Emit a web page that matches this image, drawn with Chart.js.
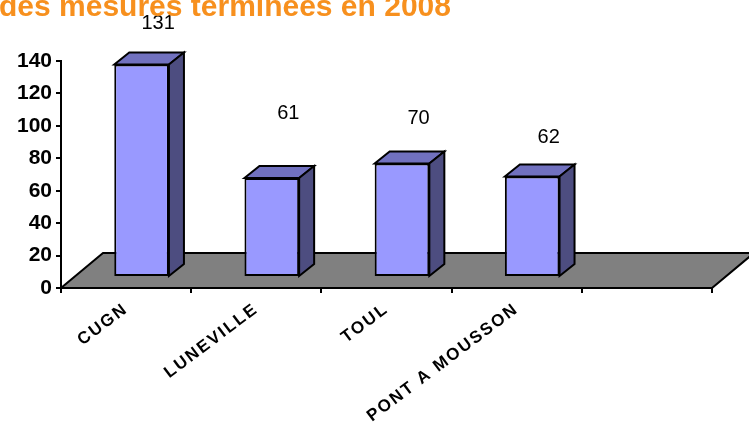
<!DOCTYPE html>
<html>
<head>
<meta charset="utf-8">
<style>
  html, body { margin: 0; padding: 0; background: #fff; }
  canvas { display: block; }
</style>
</head>
<body>
<canvas id="mesuresChart" width="749" height="432"></canvas>
<script src="https://cdn.jsdelivr.net/npm/chart.js"></script>
<script>
  // nombre de mesures terminées par site
  const sites = ['CUGN', 'LUNEVILLE', 'TOUL', 'PONT A MOUSSON'];
  const mesures = [131, 61, 70, 62];
  const yTicks = [0, 20, 40, 60, 80, 100, 120, 140];

  const FRONT = '#9999FF', TOP = '#7171BF', SIDE = '#4D4D80', FLOOR = '#808080';
  const SHIFT = { x: 15.5, y: -11 };        // bars stand behind the axis plane
  const DEPTH = { x: 15, y: -12 };          // depth of each bar
  const FLOOR_DEPTH = { x: 42, y: -35 };
  const LABEL_LIFT = [41, 65, 45, 39];      // Excel put the value labels unevenly

  const pseudo3d = {
    id: 'pseudo3d',
    beforeDraw(chart) {
      // wide spacing for the category names (y tick labels are drawn later, ticks.z: 1)
      chart.ctx.letterSpacing = '2px';
    },
    beforeDatasetsDraw(chart) {
      const { ctx, chartArea: a } = chart;
      ctx.letterSpacing = '0px';
      const y0 = chart.scales.y.getPixelForValue(0);

      // grey floor
      ctx.save();
      ctx.beginPath();
      ctx.moveTo(a.left, y0);
      ctx.lineTo(a.right, y0);
      ctx.lineTo(a.right + FLOOR_DEPTH.x, y0 + FLOOR_DEPTH.y);
      ctx.lineTo(a.left + FLOOR_DEPTH.x, y0 + FLOOR_DEPTH.y);
      ctx.closePath();
      ctx.fillStyle = FLOOR;
      ctx.fill();
      ctx.lineWidth = 2;
      ctx.strokeStyle = '#000';
      ctx.stroke();
      ctx.restore();

      // top and side faces, front faces are drawn by chart.js in the same frame
      ctx.save();
      ctx.translate(SHIFT.x, SHIFT.y);
      ctx.lineWidth = 2;
      ctx.strokeStyle = '#000';
      chart.getDatasetMeta(0).data.forEach(bar => {
        const { x, y, base, width } = bar.getProps(['x', 'y', 'base', 'width'], true);
        const l = x - width / 2, r = x + width / 2;

        ctx.beginPath();
        ctx.moveTo(l, y);
        ctx.lineTo(l + DEPTH.x, y + DEPTH.y);
        ctx.lineTo(r + DEPTH.x, y + DEPTH.y);
        ctx.lineTo(r, y);
        ctx.closePath();
        ctx.fillStyle = TOP;
        ctx.fill();
        ctx.stroke();

        ctx.beginPath();
        ctx.moveTo(r, y);
        ctx.lineTo(r + DEPTH.x, y + DEPTH.y);
        ctx.lineTo(r + DEPTH.x, base + DEPTH.y);
        ctx.lineTo(r, base);
        ctx.closePath();
        ctx.fillStyle = SIDE;
        ctx.fill();
        ctx.stroke();
      });
    },
    afterDatasetsDraw(chart) {
      const ctx = chart.ctx;
      ctx.restore();

      // value labels
      ctx.save();
      ctx.font = '20px "Liberation Sans", Arial, sans-serif';
      ctx.fillStyle = '#000';
      ctx.textAlign = 'center';
      ctx.textBaseline = 'middle';
      chart.getDatasetMeta(0).data.forEach((bar, i) => {
        const v = chart.data.datasets[0].data[i];
        if (v == null) return;
        ctx.fillText(String(v), bar.x + SHIFT.x + 16.5, bar.y + SHIFT.y - LABEL_LIFT[i]);
      });
      ctx.restore();
    },
    afterDraw(chart) {
      const ctx = chart.ctx;
      ctx.save();
      ctx.font = 'bold 30px "Liberation Sans", Arial, sans-serif';
      ctx.fillStyle = '#F7901E';
      ctx.textAlign = 'left';
      ctx.textBaseline = 'alphabetic';
      ctx.fillText('des mesures terminées en 2008', -1, 15.5);
      ctx.restore();
    }
  };

  const axisLine = { display: true, color: '#000', width: 2 };
  const tickMarks = { drawOnChartArea: false, drawTicks: true, tickLength: 5, color: '#000', lineWidth: 2 };

  new Chart(document.getElementById('mesuresChart'), {
    type: 'bar',
    data: {
      labels: [...sites, ''],
      datasets: [{
        data: mesures,
        backgroundColor: FRONT,
        borderColor: '#000',
        borderWidth: 2,
        borderSkipped: false,
        categoryPercentage: 1,
        barPercentage: 0.42,
        clip: false
      }]
    },
    options: {
      responsive: false,
      animation: false,
      layout: { padding: { top: 61, right: 37, bottom: 0, left: 0 } },
      plugins: { legend: { display: false }, tooltip: { enabled: false } },
      scales: {
        x: {
          offset: true,
          border: axisLine,
          grid: { ...tickMarks, offset: true },
          ticks: {
            autoSkip: false,
            minRotation: 37,
            maxRotation: 37,
            padding: 6,
            color: '#000',
            font: { family: '"Liberation Sans", Arial, sans-serif', size: 17, weight: 'bold' }
          },
          afterFit: s => { s.height = 144; }
        },
        y: {
          min: 0,
          max: 140,
          border: axisLine,
          grid: tickMarks,
          afterBuildTicks: s => { s.ticks = yTicks.map(v => ({ value: v })); },
          ticks: {
            z: 1,
            padding: 4,
            color: '#000',
            font: { family: '"Liberation Sans", Arial, sans-serif', size: 21, weight: 'bold' }
          },
          afterFit: s => { s.width = 61; }
        }
      }
    },
    plugins: [pseudo3d]
  });
</script>
</body>
</html>
